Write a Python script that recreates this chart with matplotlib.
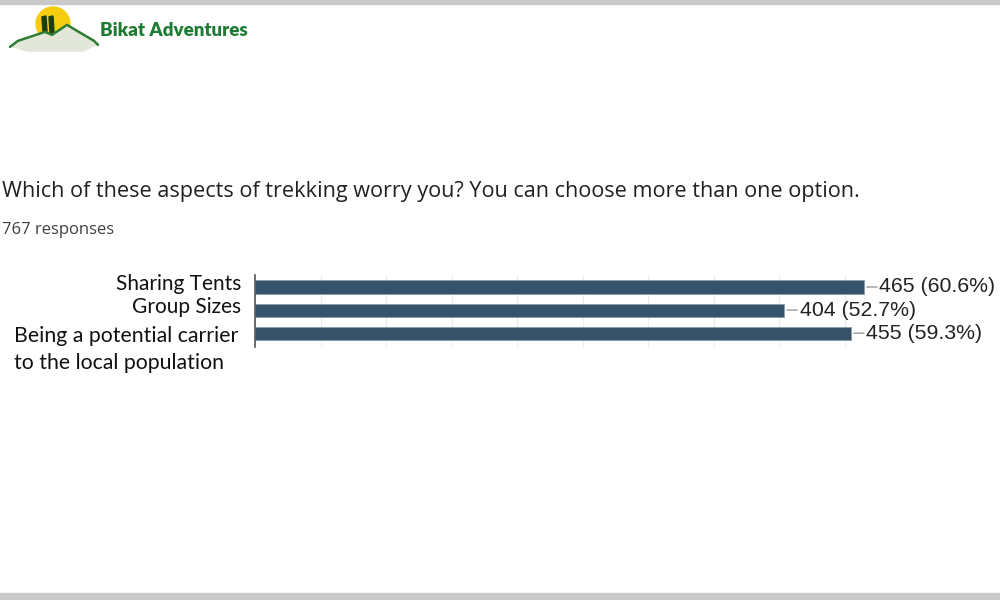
import matplotlib
matplotlib.use("Agg")
import matplotlib.pyplot as plt
from matplotlib.patches import Circle, Polygon, Rectangle

# survey data
labels = ["Sharing Tents", "Group Sizes", "Being a potential carrier\nto the local population"]
counts = [465, 404, 455]
pcts = [60.6, 52.7, 59.3]
title = "Which of these aspects of trekking worry you? You can choose more than one option."
subtitle = "767 responses"

bar_col = "#36536a"

fig = plt.figure(figsize=(10, 6), dpi=100)
fig.patch.set_facecolor("white")

# gray frame bands at top and bottom
fig.patches.append(Rectangle((0, 1 - 4 / 600), 1, 4 / 600, transform=fig.transFigure,
                             color="#c9c9c9", zorder=0))
fig.patches.append(Rectangle((0, 0), 1, 7 / 600, transform=fig.transFigure,
                             color="#c9c9c9", zorder=0))

# logo (simple drawing)
logo = fig.add_axes([0.008, 0.912, 0.092, 0.083])
logo.set_xlim(0, 92)
logo.set_ylim(50, 0)
logo.axis("off")
logo.add_patch(Circle((45, 21), 17, color="#f5cc10"))
ridge = [(2, 44), (10, 38), (37, 29), (44, 32), (59, 22), (86, 38), (90, 42)]
logo.add_patch(Polygon(ridge + [(75, 49), (20, 49)], closed=True,
                       facecolor="#e2e7da", edgecolor="none"))
logo.plot([p[0] for p in ridge], [p[1] for p in ridge], color="#2e7d32", lw=1.8,
          solid_capstyle="round")
logo.add_patch(Polygon([(34, 14), (38, 13), (39, 29), (35, 29)], color="#1b3d14"))
logo.add_patch(Polygon([(41, 14), (45, 13), (46, 30), (42, 30)], color="#1b3d14"))
fig.text(0.100, 0.950, "Bikat Adventures", fontsize=13.5, fontweight="heavy",
         color="#1e7b34", family=["Lato", "DejaVu Sans"],
         va="center", ha="left")

fig.text(0.002, 0.680, title, fontsize=15.6, family="Open Sans", color="#202124",
         va="center", ha="left")
fig.text(0.002, 0.617, subtitle, fontsize=12, family="Open Sans", color="#3c4043",
         va="center", ha="left")

ax = fig.add_axes([0.255, 1 - 347 / 600, 0.655, 72 / 600])
y = list(range(len(labels)))
ax.barh(y, counts, height=0.57, color=bar_col, edgecolor="#8a9aa6", linewidth=0.6, zorder=2)
ax.set_xlim(0, 500)
ax.set_ylim(2.6, -0.52)
ax.set_xticks(range(0, 501, 50))
ax.grid(axis="x", color="#ececec", lw=0.9, zorder=0)
ax.tick_params(length=0, labelbottom=False, labelleft=False)
for s in ["top", "right", "bottom"]:
    ax.spines[s].set_visible(False)
ax.spines["left"].set_color("#555555")
ax.spines["left"].set_linewidth(1.2)

for i, (lab, c, p) in enumerate(zip(labels, counts, pcts)):
    if "\n" in lab:
        ax.annotate(lab, xy=(0, i), xytext=(-12, 5), textcoords="offset points",
                    ha="right", va="top", multialignment="left", fontsize=15.3,
                    family="Lato", color="#111111", linespacing=1.45)
    else:
        ax.annotate(lab, xy=(0, i), xytext=(-10, 2), textcoords="offset points",
                    ha="right", va="center", fontsize=15, family="Lato", color="#111111")
    ax.annotate("", xy=(c, i), xytext=(c + 12, i), arrowprops=dict(arrowstyle="-", color="#999999", lw=1),
                annotation_clip=False)
    ax.annotate(f"{c} ({p}%)", xy=(c, i), xytext=(11, 0), textcoords="offset points",
                ha="left", va="center", fontsize=15.3, family="Liberation Sans", color="#222222",
                annotation_clip=False)

fig.savefig("out.png", dpi=100, facecolor="white")
